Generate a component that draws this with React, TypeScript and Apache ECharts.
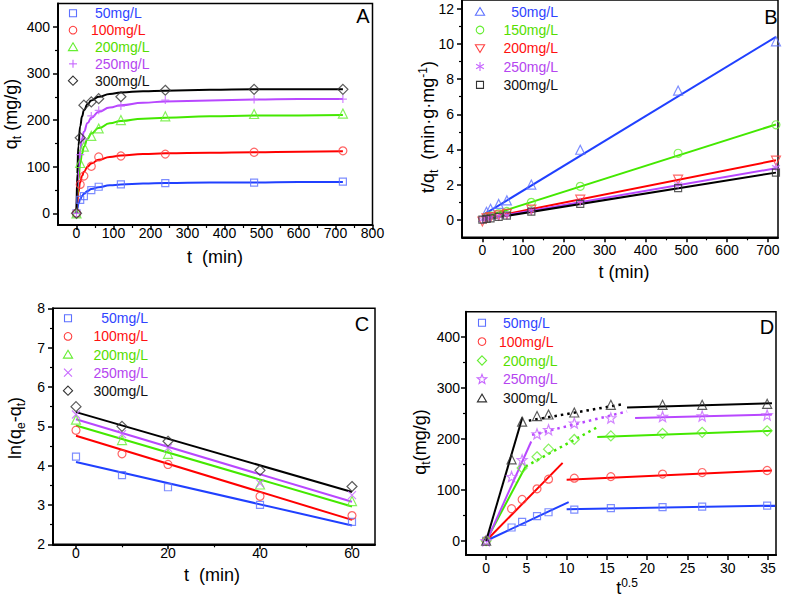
import React, { useEffect, useRef } from "react";
import * as echarts from "echarts";

const FONT = "'Liberation Sans', Arial, Helvetica, sans-serif";

// ---------------- Panel A : qt vs t ----------------
const tA = [0, 10, 20, 40, 60, 120, 240, 480, 720];
const qtA_50 = [0, 29, 37, 50, 57, 62, 65, 66, 68];
const qtA_100 = [0, 62, 80, 101, 121, 123, 127, 131, 134];
const qtA_200 = [0, 108, 143, 166, 182, 200, 208, 213, 214];
const qtA_250 = [0, 126, 159, 209, 221, 230, 243, 244, 245];
const qtA_300 = [0, 162, 232, 239, 246, 250, 264, 266, 266];
// fitted curves
const tFitA = [0, 2, 5, 10, 15, 20, 30, 40, 60, 90, 120, 180, 240, 360, 480, 600, 720];
const fitA_50 = [0, 9, 20, 30, 37, 42, 48, 52, 56, 60, 62, 64, 65, 66, 66, 67, 67];
const fitA_100 = [0, 22, 45, 67, 80, 89, 100, 107, 115, 121, 124, 127, 129, 130, 131, 132, 133];
const fitA_200 = [0, 36, 71, 107, 128, 143, 160, 171, 183, 193, 198, 203, 205, 208, 210, 210, 211];
const fitA_250 = [0, 48, 93, 135, 160, 175, 194, 205, 218, 227, 232, 237, 240, 242, 244, 245, 245];
const fitA_300 = [0, 85, 144, 187, 208, 221, 234, 242, 250, 256, 259, 262, 263, 265, 266, 266, 266];

// ---------------- Panel B : t/qt vs t ----------------
const tB = [0, 10, 20, 40, 60, 120, 240, 480, 720];
const tqB_50 = [null, 0.45, 0.62, 0.9, 1.1, 2.0, 3.98, 7.35, 10.15];
const tqB_150 = [null, 0.15, 0.22, 0.35, 0.47, 0.99, 1.9, 3.78, 5.4];
const tqB_200 = [-0.1, 0.08, 0.15, 0.25, 0.33, 0.57, 1.14, 2.28, 3.36];
const tqB_250 = [0, 0.05, 0.1, 0.2, 0.26, 0.52, 1.02, 2.0, 2.98];
const tqB_300 = [0, 0.04, 0.08, 0.16, 0.23, 0.46, 0.9, 1.8, 2.68];
const tLineB = [0, 720];
const lineB_50 = [0.25, 10.4];
const lineB_150 = [0.12, 5.42];
const lineB_200 = [0.05, 3.38];
const lineB_250 = [0.03, 2.93];
const lineB_300 = [0.0, 2.68];

// ---------------- Panel C : ln(qe-qt) vs t ----------------
const tC = [0, 10, 20, 40, 60];
const lnC_50 = [4.23, 3.76, 3.45, 3.0, 2.57];
const lnC_100 = [4.9, 4.3, 4.03, 3.22, 2.73];
const lnC_200 = [5.17, 4.65, 4.3, 3.52, 3.1];
const lnC_250 = [5.3, 4.8, 4.45, 3.55, 3.25];
const lnC_300 = [5.5, 5.0, 4.62, 3.88, 3.47];
const tLineC = [0, 60];
const lineC_50 = [4.09, 2.48];
const lineC_100 = [4.76, 2.62];
const lineC_200 = [5.02, 2.96];
const lineC_250 = [5.18, 3.08];
const lineC_300 = [5.36, 3.33];

// ---------------- Panel D : qt vs t^0.5 ----------------
const xD = [0, 3.16, 4.47, 6.32, 7.75, 10.95, 15.49, 21.91, 26.83, 34.9];
const qtD_50 = [0, 26, 37, 48.5, 56, 61, 64, 66, 67, 69];
const qtD_100 = [0, 63, 81, 102, 121, 123, 126, 131, 134, 138];
const qtD_200 = [0, null, 143, 165, 180, 199, 206, 211, 213, 216];
const qtD_250 = [0, 126, 159, 210, 218, 231, 241, 244, 245, 247];
const qtD_300 = [0, 160, 234, 245, 248, 252, 267, 267, 267, 269];
// fitted segments [x, y]
const segD_50_1 = [[0, 0], [10.25, 76]];
const segD_50_2 = [[10, 62], [35.9, 69]];
const segD_100_1 = [[0, 0], [9.5, 153]];
const segD_100_2 = [[10, 120], [35.5, 138]];
const segD_200_1 = [[0, 0], [4.9, 146]];
const segD_200_dot = [[4.9, 146], [13.8, 223]];
const segD_200_2 = [[13.8, 204], [35.5, 216]];
const segD_250_1 = [[0, -3], [5.6, 195]];
const segD_250_dot = [[5.7, 208], [17.5, 254]];
const segD_250_2 = [[18.5, 241], [35.5, 248]];
const segD_300_1 = [[0, 0], [4.5, 242]];
const segD_300_dot = [[5.3, 236], [16.9, 268]];
const segD_300_2 = [[17.5, 262], [35.5, 270]];

// ---------------- labels / ticks ----------------
const legendA = ["50mg/L", "100mg/L", "200mg/L", "250mg/L", "300mg/L"];
const legendB = ["50mg/L", "150mg/L", "200mg/L", "250mg/L", "300mg/L"];
const legendC = ["50mg/L", "100mg/L", "200mg/L", "250mg/L", "300mg/L"];
const legendD = ["50mg/L", "100mg/L", "200mg/L", "250mg/L", "300mg/L"];

const xTicksA = [0, 100, 200, 300, 400, 500, 600, 700, 800];
const xMinorA = [50, 150, 250, 350, 450, 550, 650, 750];
const yTicksA = [0, 100, 200, 300, 400];
const yMinorA = [50, 150, 250, 350];
const xTicksB = [0, 100, 200, 300, 400, 500, 600, 700];
const xMinorB = [50, 150, 250, 350, 450, 550, 650];
const yTicksB = [0, 2, 4, 6, 8, 10, 12];
const yMinorB = [1, 3, 5, 7, 9, 11];
const xTicksC = [0, 20, 40, 60];
const xMinorC = [10, 30, 50];
const yTicksC = [2, 3, 4, 5, 6, 7, 8];
const yMinorC = [2.5, 3.5, 4.5, 5.5, 6.5, 7.5];
const xTicksD = [0, 5, 10, 15, 20, 25, 30, 35];
const xMinorD = [2.5, 7.5, 12.5, 17.5, 22.5, 27.5, 32.5];
const yTicksD = [0, 100, 200, 300, 400];
const yMinorD = [50, 150, 250, 350];

// ---------------- styling ----------------
const LINE = { blue: "#2040ff", red: "#ff0000", green: "#44e800", purple: "#b847ff", black: "#000000" };
const MARK = { blue: "#5c70ff", red: "#ff4040", green: "#66ee33", purple: "#c766ff", black: "#333333" };
const TEXT = { blue: "#2f44ff", red: "#ff1010", green: "#55dd00", purple: "#b545f0", black: "#111111" };

function starPts(cx: number, cy: number, R: number, r: number) {
  const pts: number[][] = [];
  for (let i = 0; i < 10; i++) {
    const a = (-90 + 36 * i) * Math.PI / 180;
    const rr = i % 2 === 0 ? R : r;
    pts.push([cx + rr * Math.cos(a), cy + rr * Math.sin(a)]);
  }
  return pts;
}
const SYM = {
  rect: "rect",
  circle: "circle",
  triangle: "triangle",
  diamond: "diamond",
  invtri: "path://M0,0L10,0L5,8.66Z",
  plus: "path://M5,0L5,10M0,5L10,5",
  cross: "path://M0,0L10,10M10,0L0,10",
  ast: "path://M5,0L5,10M0.67,2.5L9.33,7.5M0.67,7.5L9.33,2.5",
  star: "path://" + starPts(5, 5, 5, 2.1).map((p, i) => (i ? "L" : "M") + p[0].toFixed(2) + "," + p[1].toFixed(2)).join("") + "Z",
};

function zip(xs: number[], ys: (number | null)[]) {
  const out: number[][] = [];
  xs.forEach((x, i) => { if (ys[i] !== null && ys[i] !== undefined) out.push([x, ys[i] as number]); });
  return out;
}

function axisPair(dim: "x" | "y", grid: number, min: number, max: number, major: number[], minor: number[], margin: number) {
  const pos = dim === "x" ? "bottom" : "left";
  return [
    {
      type: "value", gridIndex: grid, min, max, position: pos,
      splitLine: { show: false },
      axisLine: { show: true, onZero: false, lineStyle: { color: "#000", width: 2 } },
      axisTick: { show: true, customValues: major, length: 5, lineStyle: { color: "#000", width: 1.5 } },
      axisLabel: { customValues: major, margin, color: "#000", fontSize: 14, fontFamily: FONT },
    },
    {
      type: "value", gridIndex: grid, min, max, position: pos,
      splitLine: { show: false },
      axisLine: { show: false, onZero: false },
      axisTick: { show: true, customValues: minor, length: 3, lineStyle: { color: "#000", width: 1.2 } },
      axisLabel: { show: false },
    },
  ];
}

function scatter(p: number, data: number[][], sym: string, size: number, col: keyof typeof MARK) {
  return {
    type: "scatter", xAxisIndex: 2 * p, yAxisIndex: 2 * p, data, symbol: sym, symbolSize: size,
    itemStyle: { color: "transparent", borderColor: MARK[col], borderWidth: 1.2 },
    z: 4, silent: true,
  };
}
function line(p: number, data: number[][], col: keyof typeof LINE, extra: any = {}) {
  return {
    type: "line", xAxisIndex: 2 * p, yAxisIndex: 2 * p, data, showSymbol: false, symbol: "none",
    lineStyle: { color: LINE[col], width: 2, ...(extra.lineStyle || {}) },
    z: 3, silent: true, smooth: extra.smooth || false, smoothMonotone: extra.smooth ? "x" : undefined,
  };
}

// ---------- graphic helpers (legends / titles) ----------
function marker(type: string, cx: number, cy: number, color: string): any {
  const st = { fill: "none", stroke: color, lineWidth: 1.1 };
  const poly = (pts: number[][]) => ({ type: "polygon", shape: { points: pts }, style: st, silent: true });
  const ln = (x1: number, y1: number, x2: number, y2: number) => ({ type: "line", shape: { x1, y1, x2, y2 }, style: st, silent: true });
  switch (type) {
    case "rect": return { type: "rect", shape: { x: cx - 3.5, y: cy - 3.5, width: 7, height: 7 }, style: st, silent: true };
    case "circle": return { type: "circle", shape: { cx, cy, r: 3.8 }, style: st, silent: true };
    case "triangle": return poly([[cx, cy - 4.2], [cx + 4.6, cy + 3.6], [cx - 4.6, cy + 3.6]]);
    case "invtri": return poly([[cx - 4.6, cy - 3.6], [cx + 4.6, cy - 3.6], [cx, cy + 4.2]]);
    case "diamond": return poly([[cx, cy - 4.6], [cx + 4.6, cy], [cx, cy + 4.6], [cx - 4.6, cy]]);
    case "star": return poly(starPts(cx, cy, 5, 2.1));
    case "plus": return { type: "group", children: [ln(cx - 4, cy, cx + 4, cy), ln(cx, cy - 4, cx, cy + 4)] };
    case "cross": return { type: "group", children: [ln(cx - 4, cy - 4, cx + 4, cy + 4), ln(cx - 4, cy + 4, cx + 4, cy - 4)] };
    case "ast": return { type: "group", children: [ln(cx, cy - 4.5, cx, cy + 4.5), ln(cx - 3.9, cy - 2.25, cx + 3.9, cy + 2.25), ln(cx - 3.9, cy + 2.25, cx + 3.9, cy - 2.25)] };
  }
  return null;
}

function legend(labels: string[], syms: string[], cols: (keyof typeof TEXT)[], mx: number, tx: number[], align: string, y0: number, dy: number) {
  const out: any[] = [];
  labels.forEach((lab, i) => {
    const y = y0 + dy * i;
    out.push(marker(syms[i], mx, y, MARK[cols[i]]));
    out.push({
      type: "text", x: tx[i], y, silent: true,
      style: { text: lab, fill: TEXT[cols[i]], fontSize: 14, fontFamily: FONT, align, verticalAlign: "middle" },
    });
  });
  return out;
}

const RICH = {
  m: { fontSize: 18, fontFamily: FONT, lineHeight: 24, fill: "#000" },
  s: { fontSize: 12, fontFamily: FONT, lineHeight: 12, padding: [11, 0, 0, 0], fill: "#000" },
  u: { fontSize: 12, fontFamily: FONT, lineHeight: 12, padding: [0, 0, 11, 0], fill: "#000" },
};
function title(text: string, x: number, y: number, rotate = false) {
  return {
    type: "text", x, y, rotation: rotate ? Math.PI / 2 : 0, silent: true,
    style: { text, rich: RICH, align: "center", verticalAlign: "middle" },
  };
}
function letter(text: string, x: number, y: number) {
  return { type: "text", x, y, silent: true, style: { text, fill: "#000", fontSize: 20, fontFamily: FONT, align: "center", verticalAlign: "middle" } };
}

const colsA: (keyof typeof TEXT)[] = ["blue", "red", "green", "purple", "black"];
const colsB: (keyof typeof TEXT)[] = ["blue", "green", "red", "purple", "black"];

export default function App() {
  const ref = useRef<HTMLDivElement>(null);
  useEffect(() => {
    if (!ref.current) return;
    const chart = echarts.init(ref.current, null, { renderer: "svg" });

    const grids = [
      { left: 58, top: 3.5, width: 314.5, height: 221.5 },
      { left: 462, top: 0, width: 316, height: 237.3 },
      { left: 53, top: 308.3, width: 322, height: 236 },
      { left: 466, top: 311.7, width: 310, height: 243.3 },
    ].map((g) => ({ ...g, show: true, borderColor: "#000", borderWidth: 1.5, backgroundColor: "transparent" }));

    const xAxis = [
      ...axisPair("x", 0, -50, 800, xTicksA, xMinorA, 1),
      ...axisPair("x", 1, -50, 725, xTicksB, xMinorB, 6),
      ...axisPair("x", 2, -5, 65, xTicksC, xMinorC, 2),
      ...axisPair("x", 3, -2.5, 36, xTicksD, xMinorD, 6),
    ];
    const yAxis = [
      ...axisPair("y", 0, -25, 450, yTicksA, yMinorA, 8),
      ...axisPair("y", 1, -1, 12.5, yTicksB, yMinorB, 8),
      ...axisPair("y", 2, 2, 8, yTicksC, yMinorC, 8),
      ...axisPair("y", 3, -28, 450, yTicksD, yMinorD, 6),
    ];

    const dotted = { lineStyle: { type: [2.5, 4], width: 2.5 } };
    const series = [
      // A
      line(0, zip(tFitA, fitA_50), "blue", { smooth: true }),
      line(0, zip(tFitA, fitA_100), "red", { smooth: true }),
      line(0, zip(tFitA, fitA_200), "green", { smooth: true }),
      line(0, zip(tFitA, fitA_250), "purple", { smooth: true }),
      line(0, zip(tFitA, fitA_300), "black", { smooth: true }),
      scatter(0, zip(tA, qtA_50), SYM.rect, 7, "blue"),
      scatter(0, zip(tA, qtA_100), SYM.circle, 8, "red"),
      scatter(0, zip(tA, qtA_200), SYM.triangle, 9, "green"),
      scatter(0, zip(tA, qtA_250), SYM.plus, 8, "purple"),
      scatter(0, zip(tA, qtA_300), SYM.diamond, 10, "black"),
      // B
      line(1, zip(tLineB, lineB_50), "blue"),
      line(1, zip(tLineB, lineB_150), "green"),
      line(1, zip(tLineB, lineB_200), "red"),
      line(1, zip(tLineB, lineB_250), "purple"),
      line(1, zip(tLineB, lineB_300), "black"),
      scatter(1, zip(tB, tqB_50), SYM.triangle, 9, "blue"),
      scatter(1, zip(tB, tqB_150), SYM.circle, 8, "green"),
      scatter(1, zip(tB, tqB_200), SYM.invtri, 9, "red"),
      scatter(1, zip(tB, tqB_250), SYM.ast, 8, "purple"),
      scatter(1, zip(tB, tqB_300), SYM.rect, 7, "black"),
      // C
      line(2, zip(tLineC, lineC_50), "blue"),
      line(2, zip(tLineC, lineC_100), "red"),
      line(2, zip(tLineC, lineC_200), "green"),
      line(2, zip(tLineC, lineC_250), "purple"),
      line(2, zip(tLineC, lineC_300), "black"),
      scatter(2, zip(tC, lnC_50), SYM.rect, 7, "blue"),
      scatter(2, zip(tC, lnC_100), SYM.circle, 8, "red"),
      scatter(2, zip(tC, lnC_200), SYM.triangle, 9, "green"),
      scatter(2, zip(tC, lnC_250), SYM.cross, 8, "purple"),
      scatter(2, zip(tC, lnC_300), SYM.diamond, 10, "black"),
      // D
      line(3, segD_50_1, "blue"), line(3, segD_50_2, "blue"),
      line(3, segD_100_1, "red"), line(3, segD_100_2, "red"),
      line(3, segD_200_1, "green"), line(3, segD_200_dot, "green", dotted), line(3, segD_200_2, "green"),
      line(3, segD_250_1, "purple"), line(3, segD_250_dot, "purple", dotted), line(3, segD_250_2, "purple"),
      line(3, segD_300_1, "black"), line(3, segD_300_dot, "black", dotted), line(3, segD_300_2, "black"),
      scatter(3, zip(xD, qtD_50), SYM.rect, 7, "blue"),
      scatter(3, zip(xD, qtD_100), SYM.circle, 8, "red"),
      scatter(3, zip(xD, qtD_200), SYM.diamond, 10, "green"),
      scatter(3, zip(xD, qtD_250), SYM.star, 10, "purple"),
      scatter(3, zip(xD, qtD_300), SYM.triangle, 9, "black"),
    ];

    const graphic = [
      ...legend(legendA, ["rect", "circle", "triangle", "plus", "diamond"], colsA, 73, [95, 91, 95, 95, 95], "left", 13.3, 16.85),
      ...legend(legendB, ["triangle", "circle", "invtri", "ast", "rect"], colsB, 480, [558, 558, 558, 558, 558], "right", 11.7, 18.3),
      ...legend(legendC, ["rect", "circle", "triangle", "cross", "diamond"], colsA, 68, [148, 148, 148, 148, 148], "right", 318.3, 18.1),
      ...legend(legendD, ["rect", "circle", "diamond", "star", "triangle"], colsA, 482, [503, 499, 503, 503, 503], "left", 322.7, 18.9),
      letter("A", 363, 16), letter("B", 771, 17), letter("C", 362, 324), letter("D", 767, 327),
      title("{m|t  (min)}", 215, 257),
      title("{m|q}{s|t}{m| (mg/g)}", 11, 114, true),
      title("{m|t (min)}", 624, 272),
      title("{m|t/q}{s|t}{m|  (min·g·mg}{u|-1}{m|)}", 428, 127, true),
      title("{m|t  (min)}", 212, 575),
      title("{m|ln(q}{s|e}{m|-q}{s|t}{m|)}", 15, 428, true),
      title("{m|t}{u|0.5}", 627, 588),
      title("{m|q}{s|t}{m|(mg/g)}", 420, 442, true),
    ];

    chart.setOption({
      animation: false,
      backgroundColor: "#fff",
      textStyle: { fontFamily: FONT },
      grid: grids,
      xAxis,
      yAxis,
      series,
      graphic,
    } as any);
    return () => chart.dispose();
  }, []);
  return <div ref={ref} style={{ position: "absolute", left: 0, top: 0, width: 789, height: 600 }} />;
}
